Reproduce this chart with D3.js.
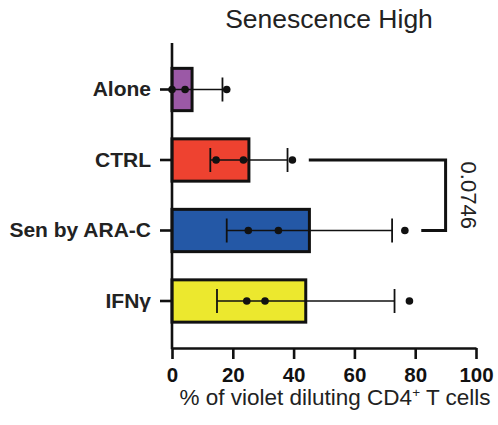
<!DOCTYPE html>
<html>
<head>
<meta charset="utf-8">
<script src="https://cdn.jsdelivr.net/npm/d3@7"></script>
<style>
  body { margin: 0; background: #fff; }
  svg { display: block; font-family: "Liberation Sans", Arial, sans-serif; }
</style>
</head>
<body>
<svg id="chart" width="498" height="425"></svg>
<script>
// groups, bar means and SD, individual donors
var categories = ["Alone", "CTRL", "Sen by ARA-C", "IFN\u03b3"];
var means = [6.6, 25.3, 45.2, 44.0];
var sds = [10.0, 12.7, 27.2, 29.2];
var points = [
    [0, 4.3, 18.0],
    [14.5, 23.5, 39.6],
    [25.1, 35.0, 76.6],
    [24.6, 30.6, 78.1]
];
var barColors = ["#9b59a6", "#ee4230", "#2458a6", "#ece82e"];
var xTicks = [0, 20, 40, 60, 80, 100];
// comparison: [groupA, groupB, startA, startB, bracketAt, label]
var comparison = ["CTRL", "Sen by ARA-C", 45, 82, 90, "0.0746"];

var svg = d3.select("#chart");

var x = d3.scaleLinear().domain([0, 100]).range([172, 476]);
var y = d3.scaleBand().domain(categories).range([54.25, 336.25])
    .paddingInner(0.4).paddingOuter(0.2);
var axisY = 348;

// title
svg.append("text")
    .attr("x", 329).attr("y", 28)
    .attr("text-anchor", "middle")
    .style("font-size", "26.5px")
    .attr("fill", "#222")
    .text("Senescence High");

//****************************BARS***************************************************
var rows = categories.map(function (c, i) {
    return {name: c, mean: means[i], sd: sds[i], pts: points[i], color: barColors[i]};
});

var g = svg.selectAll("g.row").data(rows).enter()
    .append("g").attr("class", "row");

g.append("rect")
    .attr("x", x(0))
    .attr("y", function (d) { return y(d.name); })
    .attr("width", function (d) { return x(d.mean) - x(0); })
    .attr("height", y.bandwidth())
    .attr("fill", function (d) { return d.color; })
    .attr("stroke", "#111")
    .attr("stroke-width", 3);

// error bars
g.append("line")
    .attr("x1", function (d) { return x(Math.max(0, d.mean - d.sd)); })
    .attr("x2", function (d) { return x(d.mean + d.sd); })
    .attr("y1", function (d) { return y(d.name) + y.bandwidth() / 2; })
    .attr("y2", function (d) { return y(d.name) + y.bandwidth() / 2; })
    .attr("stroke", "#111").attr("stroke-width", 1.6);

g.each(function (d) {
    var cy = y(d.name) + y.bandwidth() / 2;
    var ends = [d.mean + d.sd];
    if (d.mean - d.sd > 0) ends.push(d.mean - d.sd);
    d3.select(this).selectAll("line.cap").data(ends).enter()
        .append("line").attr("class", "cap")
        .attr("x1", function (v) { return x(v); })
        .attr("x2", function (v) { return x(v); })
        .attr("y1", cy - 12).attr("y2", cy + 12)
        .attr("stroke", "#111").attr("stroke-width", 1.8);
    d3.select(this).selectAll("circle").data(d.pts).enter()
        .append("circle")
        .attr("cx", function (v) { return x(v); })
        .attr("cy", cy)
        .attr("r", 3.8)
        .attr("fill", "#111");
});

//****************************AXES***************************************************
var xAxis = svg.append("g")
    .attr("transform", "translate(0," + axisY + ")")
    .call(d3.axisBottom(x).tickValues(xTicks).tickSize(11).tickSizeOuter(0).tickPadding(8));
xAxis.select(".domain").attr("stroke", "#111").attr("stroke-width", 2.6);
xAxis.selectAll(".tick line").attr("stroke", "#111").attr("stroke-width", 2.6);
xAxis.selectAll(".tick text")
    .attr("fill", "#111")
    .style("font-size", "20.5px").style("font-weight", "bold")
    .style("font-family", "'Liberation Sans', Arial, sans-serif");

var yAxis = svg.append("g")
    .attr("transform", "translate(" + x(0) + ",0)")
    .call(d3.axisLeft(y).tickSize(12).tickPadding(9));
yAxis.select(".domain").remove();
yAxis.selectAll(".tick line").attr("stroke", "#111").attr("stroke-width", 2.6);
yAxis.selectAll(".tick text")
    .attr("fill", "#222")
    .style("font-size", "21px").style("font-weight", "bold")
    .style("font-family", "'Liberation Sans', Arial, sans-serif");

svg.append("line")
    .attr("x1", x(0)).attr("x2", x(0))
    .attr("y1", 43).attr("y2", axisY + 1.3)
    .attr("stroke", "#111").attr("stroke-width", 2.6);

var xTitle = svg.append("text")
    .attr("x", 335).attr("y", 405)
    .attr("text-anchor", "middle")
    .attr("fill", "#222")
    .style("font-size", "22.5px");
xTitle.append("tspan").text("% of violet diluting CD4");
xTitle.append("tspan").attr("dy", -8).style("font-size", "13.5px").text("+");
xTitle.append("tspan").attr("dy", 8).text(" T cells");

//****************************SIGNIFICANCE BRACKET***************************************************
var yA = y(comparison[0]) + y.bandwidth() / 2;
var yB = y(comparison[1]) + y.bandwidth() / 2;
var bx = x(comparison[4]);
svg.append("path")
    .attr("d", "M" + x(comparison[2]) + "," + yA + "H" + bx + "V" + yB + "H" + x(comparison[3]))
    .attr("fill", "none")
    .attr("stroke", "#111")
    .attr("stroke-width", 3);

svg.append("text")
    .attr("transform", "translate(" + (bx + 23) + "," + ((yA + yB) / 2) + ") rotate(90)")
    .attr("text-anchor", "middle")
    .attr("dy", "0.35em")
    .attr("fill", "#222")
    .style("font-size", "22px")
    .text(comparison[5]);
</script>
</body>
</html>
